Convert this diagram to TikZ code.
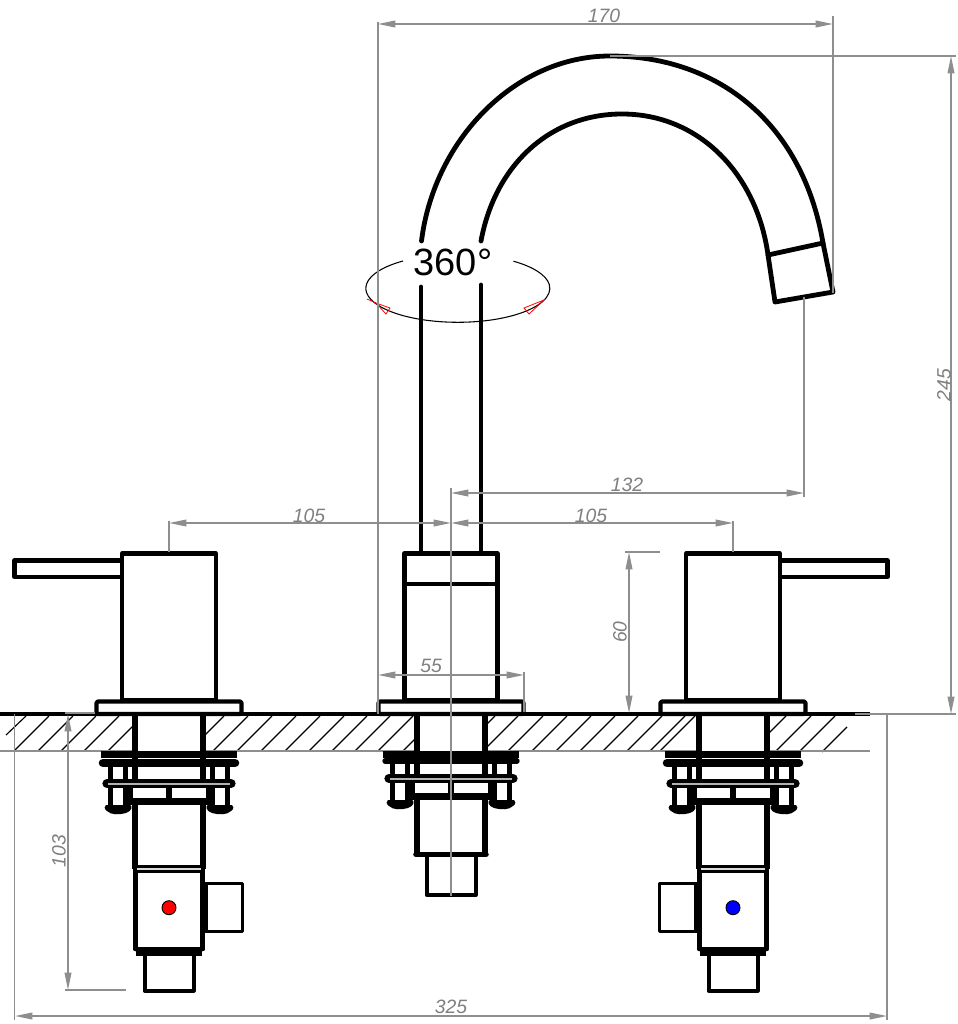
\documentclass[tikz,border=0pt]{standalone}
\usepackage{fontspec}
\setmainfont{Liberation Sans}
\usetikzlibrary{arrows.meta}
\definecolor{dimgrey}{HTML}{8E8E8E}
\definecolor{dimtxt}{HTML}{808080}
\tikzset{
  dimline/.style={draw=dimgrey,line width=1.2pt},
  dimarrow/.style={dimline,{Triangle[length=13pt,width=5pt,fill=dimgrey]}-{Triangle[length=13pt,width=5pt,fill=dimgrey]}},
  dimlabel/.style={text=dimtxt,font=\fontsize{14.5pt}{15pt}\selectfont\itshape,inner sep=0pt},
  ink/.style={draw=black,line width=3.1pt,line join=round,line cap=round},
  thinink/.style={draw=black,line width=2.6pt,line join=round,line cap=round},
  hatchline/.style={draw=black,line width=0.85pt},
  bar/.style={draw=black,line cap=round},
}
\newcommand{\nutpair}[1]{%
  \fill[black] (-63,#1) -- (-39,#1) .. controls (-36,#1+1) and (-37,#1+6) .. (-43,#1+8) .. controls (-50,#1+10) and (-58,#1+10) .. (-62,#1+6) .. controls (-65,#1+4) and (-65,#1+1) .. (-63,#1) -- cycle;
  \fill[black] (63,#1) -- (39,#1) .. controls (36,#1+1) and (37,#1+6) .. (43,#1+8) .. controls (50,#1+10) and (58,#1+10) .. (62,#1+6) .. controls (65,#1+4) and (65,#1+1) .. (63,#1) -- cycle;
}
% mounting stack; #1 offset of lower part, #2 centre y of second bar, #3 its width
\newcommand{\mountstack}[3]{%
  \fill[white] (-34,716) rectangle (34,{805+#1});
  \draw[line width=4.5pt] (-34,714) -- (-34,{780+#1});
  \draw[line width=4.5pt] (34,714) -- (34,{780+#1});
  \draw[line width=4.8pt] (-68,754.5) -- (68,754.5);
  \draw[bar,line width=#3] (-66,#2) -- (66,#2);
  \foreach \s in {-58.5,-43.5,43.5,58.5}{\draw[line width=4.2pt] (\s,764) -- (\s,{806+#1});}
  \nutpair{805+#1}
  \draw[bar,line width=7pt] (-62,{783.5+#1}) -- (62,{783.5+#1});
  \draw[draw=white!70!black,line width=.8pt] (-61,{784+#1}) -- (61,{784+#1});
  \fill[black] (-41,{788+#1}) rectangle (41,{805+#1});
  \fill[white] (-36.5,{788+#1}) rectangle (-3,{798+#1});
  \fill[white] (3,{788+#1}) rectangle (36.5,{798+#1});
}
\newcommand{\valvebody}{%
  \fill[white] (-34,805) rectangle (34,950);
  \draw[line width=4.5pt] (-34,805) -- (-34,869);
  \draw[line width=4.5pt] (34,805) -- (34,869);
  \fill[black] (-36,865) rectangle (36,873);
  \draw[draw=white!85!black,line width=.8pt] (-32,869) -- (32,869);
  \draw[thinink,line width=3.4pt] (-33.5,873) -- (-33.5,949);
  \draw[thinink,line width=3.4pt] (33.5,873) -- (33.5,949);
  \fill[black] (-33,948) rectangle (33,956);
  \draw[thinink,line width=3.4pt] (-33.5,949) -- (33.5,949);
  \draw[thinink,line width=3pt,fill=white] (-24.5,956) -- (-24.5,990.5) -- (24.5,990.5) -- (24.5,956);
  \draw[thinink,fill=white] (35,883.5) -- (73.5,883.5) -- (73.5,931.5) -- (35,931.5);
  \draw[line width=3.8pt] (36,882) -- (36,933);
}
\begin{document}
\begin{tikzpicture}[x=0.75pt,y=-0.75pt]
\useasboundingbox (0,0) rectangle (957,1024);
\fill[white] (0,0) rectangle (957,1024);
% hatching
\foreach \t in {49,73,96,119,143,224,248,272,296,320,344,367,390,413,438,495,518,543,567,591,615,638,662,685,695,786,811,835}
  {\draw[hatchline] (\t,716) -- ({\t-35},751);}
\draw[hatchline] (6,735) -- (26,716);
\draw[hatchline] (822,752) -- (847,727);
\draw[draw=dimgrey,line width=.9pt] (0,751) -- (870,751);
\draw[draw=black,line width=2.8pt] (0,714) -- (870,714);
% fixtures
\begin{scope}[shift={(169,0)}]
  \mountstack{0}{763}{6.4pt}\valvebody
\end{scope}
\begin{scope}[shift={(451,0)}]
  \mountstack{-5}{761}{4pt}
  \fill[white] (-34,800) rectangle (34,856);
  \draw[line width=4.5pt] (-34,799) -- (-34,854);
  \draw[line width=4.5pt] (34,799) -- (34,854);
  \draw[bar,line width=4.2pt] (-35,854.5) -- (35,854.5);
  \draw[thinink,line width=3pt,fill=white] (-24.5,857) -- (-24.5,895) -- (24.5,895) -- (24.5,857);
\end{scope}
\begin{scope}[shift={(733,0)},xscale=-1]
  \mountstack{0}{763}{6.4pt}\valvebody
\end{scope}
\fill[red,draw=black,line width=.7pt] (169,907.7) circle[radius=7];
\fill[blue,draw=black,line width=.7pt] (733,907.7) circle[radius=7];
% upper bodies
\draw[ink,fill=white] (122,553.5) rectangle (216,700);
\draw[ink,fill=white] (14.5,560.5) rectangle (122,577);
\draw[ink,fill=white] (686,553.5) rectangle (780,700);
\draw[ink,fill=white] (780,560.5) rectangle (887.5,577);
\draw[ink,fill=white] (404.5,553.5) rectangle (497.5,700);
\draw[ink] (404.5,584) -- (497.5,584);
\draw[ink,rounded corners=1pt,fill=white] (96.5,701.5) rectangle (241.5,714);
\draw[ink,rounded corners=1pt,fill=white] (378.5,701.5) rectangle (523.5,714);
\draw[ink,rounded corners=1pt,fill=white] (660.5,701.5) rectangle (805.5,714);
% spout
\draw[ink,line width=3.6pt] (421,287) -- (421,552);
\draw[ink,line width=3.6pt] (481,285) -- (481,552);
\draw[ink,line width=3.6pt] (421.5,241) .. controls (434,140) and (515,56) .. (610,56)
  .. controls (720,56) and (803,125) .. (823,243) -- (833,292) -- (775,302) -- (768,255)
  .. controls (757,175) and (700,114) .. (622,114)
  .. controls (550,114) and (495,165) .. (481,241);
\draw[ink,line width=3.6pt] (768,255) -- (823,243);
% rotation mark
\draw[line width=.8pt] (403,261) arc[start angle=233.4,end angle=-52.8,x radius=92,y radius=34];
\draw[red,line width=.6pt] (367,299) -- (376,303) -- (390,308) -- (386,314) -- (376,303);
\draw[red,line width=.6pt] (544,300) -- (524,308) -- (529,314) -- cycle;
\node[inner sep=0pt,font=\fontsize{28.5pt}{30pt}\selectfont] (rot) at (453,262) {360°};
% dimensions
\draw[dimline] (378,22) -- (378,714);
\draw[dimline] (833,16) -- (833,293);
\draw[dimarrow] (378,24) -- (833,24);
\node[dimlabel] (d170) at (604,16) {170};
\draw[dimline] (610,56) -- (956,56);
\draw[dimline] (855,714) -- (956,714);
\draw[dimarrow] (951,56) -- (951,714);
\node[dimlabel,rotate=90] (d245) at (944,385) {245};
\draw[dimline] (804,297) -- (804,497);
\draw[dimline] (451,488) -- (451,896);
\draw[dimarrow] (451,493) -- (804,493);
\node[dimlabel] (d132) at (627,485) {132};
\draw[dimline] (169,521) -- (169,552);
\draw[dimline] (733,521) -- (733,552);
\draw[dimarrow] (169,523) -- (451,523);
\draw[dimarrow] (451,523) -- (733,523);
\node[dimlabel] (d105a) at (309,516) {105};
\node[dimlabel] (d105b) at (591,516) {105};
\draw[dimline] (625,552) -- (660,552);
\draw[dimarrow] (629,552) -- (629,713);
\node[dimlabel,rotate=90] (d60) at (620,632) {60};
\draw[dimline] (524,672) -- (524,712);
\draw[dimarrow] (378,675) -- (524,675);
\node[dimlabel] (d55) at (431,666) {55};
\draw[dimline] (65,713) -- (95,713);
\draw[dimline] (65,990) -- (126,990);
\draw[dimarrow] (68,714) -- (68,990);
\node[dimlabel,rotate=90] (d103) at (59,851) {103};
\draw[dimline] (14.5,714) -- (14.5,1020);
\draw[dimline] (887,714) -- (887,1020);
\draw[dimarrow] (15,1016) -- (887,1016);
\node[dimlabel] (d325) at (451,1007) {325};
\end{tikzpicture}
\end{document}
